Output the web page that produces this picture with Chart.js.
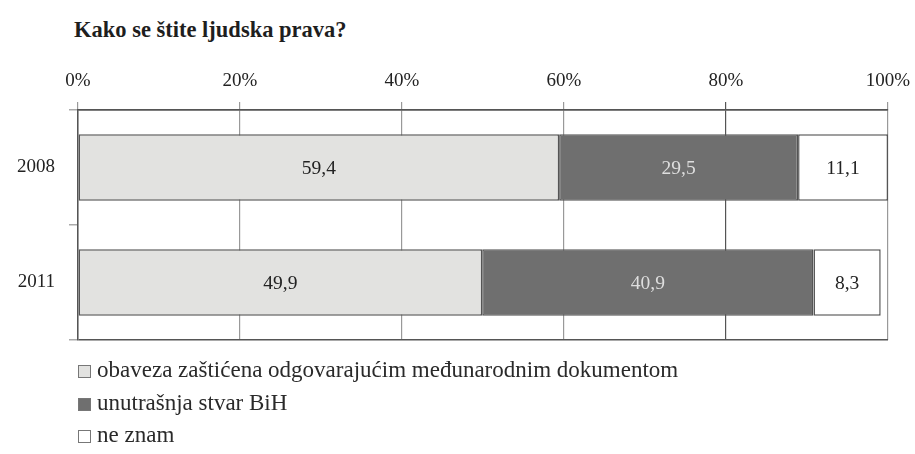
<!DOCTYPE html>
<html>
<head>
<meta charset="utf-8">
<script src="https://cdn.jsdelivr.net/npm/chart.js@4/dist/chart.umd.min.js"></script>
<style>
  body { margin: 0; background: #fff; }
  #wrap { position: relative; width: 915px; height: 454px; font-family: "Liberation Serif", serif; color: #222; }
  #title { position: absolute; left: 74px; top: 18px; font-size: 22.5px; line-height: 24px; font-weight: bold; color: #1e1e1e; }
  #legend { position: absolute; left: 78px; top: 356px; font-size: 23px; color: #2a2a2a; }
  #legend div { height: 32.5px; line-height: 28px; white-space: nowrap; }
  #legend span.box { display: inline-block; width: 11px; height: 11px; border: 1px solid #777; margin-right: 6px; vertical-align: -1px; }
  canvas { position: absolute; left: 0; top: 0; }
</style>
</head>
<body>
<div id="wrap">
  <div id="title">Kako se štite ljudska prava?</div>
  <canvas id="chart" width="915" height="454"></canvas>
  <div id="legend"></div>
</div>
<script>
const years = ['2008', '2011'];
const seriesNames = [
  'obaveza zaštićena odgovarajućim međunarodnim dokumentom',
  'unutrašnja stvar BiH',
  'ne znam'
];
const protectedIntl = [59.4, 49.9];
const internalBih = [29.5, 40.9];
const dontKnow = [11.1, 8.3];
const xTickLabels = ['0%', '20%', '40%', '60%', '80%', '100%'];

const fills = ['#e2e2e0', '#6f6f6f', '#ffffff'];
const labelColors = ['#222', '#dedede', '#222'];
const tickFont = { family: 'Liberation Serif', size: 19 };

// draws the value in the middle of every bar segment
const valueLabels = {
  id: 'valueLabels',
  afterDatasetsDraw(chart) {
    const c = chart.ctx;
    c.save();
    c.font = '19.5px "Liberation Serif"';
    c.textAlign = 'center';
    c.textBaseline = 'middle';
    chart.data.datasets.forEach((ds, i) => {
      chart.getDatasetMeta(i).data.forEach((bar, j) => {
        c.fillStyle = labelColors[i];
        c.fillText(String(ds.data[j]).replace('.', ','), (bar.x + bar.base) / 2, bar.y + 1);
      });
    });
    c.restore();
  }
};

const makeSet = (label, data, i) => ({
  label: label,
  data: data,
  backgroundColor: fills[i],
  borderColor: '#555',
  borderWidth: 1.5,
  borderSkipped: false,
  barPercentage: 0.58,
  categoryPercentage: 1
});

const chart = new Chart(document.getElementById('chart'), {
  type: 'bar',
  data: {
    labels: years,
    datasets: [
      makeSet(seriesNames[0], protectedIntl, 0),
      makeSet(seriesNames[1], internalBih, 1),
      makeSet(seriesNames[2], dontKnow, 2)
    ]
  },
  options: {
    indexAxis: 'y',
    responsive: false,
    animation: false,
    layout: { padding: { top: 0, left: 0, right: 27, bottom: 114 } },
    plugins: {
      legend: { display: false },
      tooltip: { enabled: false }
    },
    scales: {
      x: {
        position: 'top',
        stacked: true,
        min: 0,
        max: 100,
        ticks: {
          stepSize: 20,
          font: tickFont,
          color: '#222',
          padding: 10,
          callback: (v, i) => xTickLabels[i]
        },
        grid: {
          color: ctx => ctx.index === 4 ? '#555' : '#999',
          lineWidth: 1.2,
          tickLength: 8
        },
        border: { display: true, color: '#555', width: 1.5 },
        afterFit: s => {
          s.height = 110;
          s.paddingLeft = 0;
          s.paddingRight = 0;
        }
      },
      y: {
        stacked: true,
        ticks: { font: tickFont, color: '#222', padding: 14 },
        grid: {
          offset: true,
          color: ctx => ctx.index === 1 ? 'rgba(0,0,0,0)' : '#555',
          lineWidth: 1.5,
          tickColor: '#aaa',
          tickLength: 9
        },
        border: { display: true, color: '#555', width: 1.5 },
        afterFit: s => { s.width = 78; }
      }
    }
  },
  plugins: [valueLabels]
});

// legend below the chart, one item per line
const legend = document.getElementById('legend');
chart.data.datasets.forEach(ds => {
  const row = document.createElement('div');
  const box = document.createElement('span');
  box.className = 'box';
  box.style.background = ds.backgroundColor;
  row.appendChild(box);
  row.appendChild(document.createTextNode(ds.label));
  legend.appendChild(row);
});
</script>
</body>
</html>
